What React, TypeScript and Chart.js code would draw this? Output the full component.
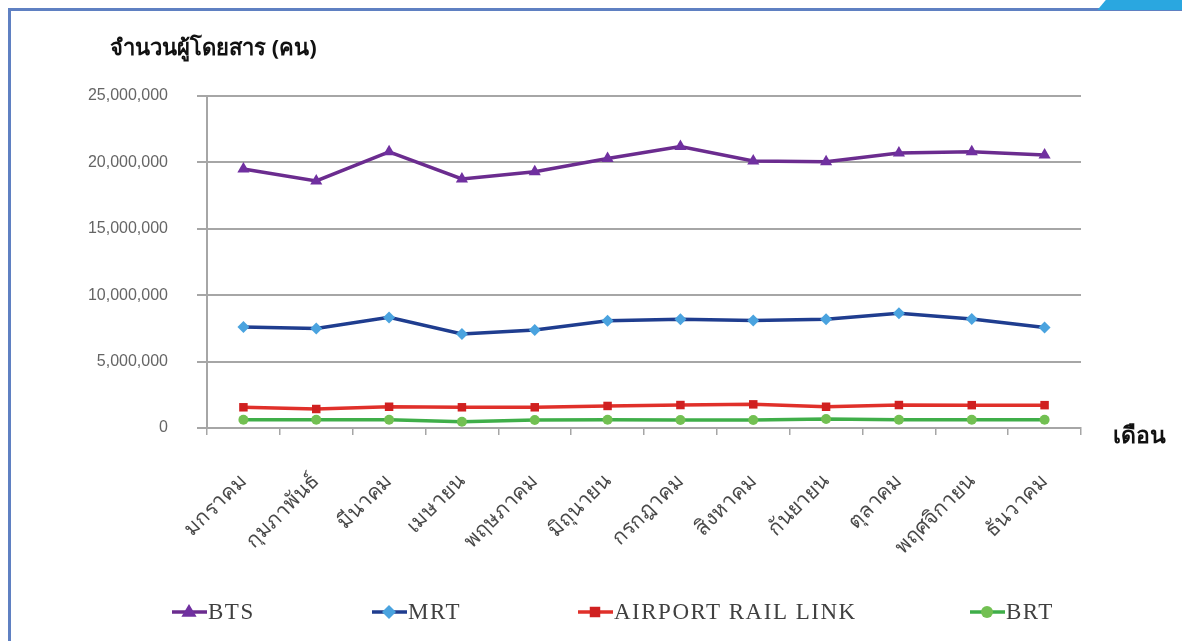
import React, { useEffect, useRef } from "react";
import { Chart, registerables } from "chart.js";

Chart.register(...registerables);

const months = [
  "มกราคม",
  "กุมภาพันธ์",
  "มีนาคม",
  "เมษายน",
  "พฤษภาคม",
  "มิถุนายน",
  "กรกฎาคม",
  "สิงหาคม",
  "กันยายน",
  "ตุลาคม",
  "พฤศจิกายน",
  "ธันวาคม",
];

const btsValues = [19500000, 18600000, 20800000, 18750000, 19300000, 20300000, 21200000, 20100000, 20050000, 20700000, 20800000, 20550000];
const mrtValues = [7600000, 7500000, 8330000, 7080000, 7380000, 8080000, 8190000, 8100000, 8190000, 8640000, 8200000, 7560000];
const arlValues = [1560000, 1430000, 1600000, 1560000, 1560000, 1660000, 1730000, 1780000, 1600000, 1730000, 1720000, 1720000];
const brtValues = [620000, 620000, 620000, 470000, 600000, 620000, 600000, 600000, 680000, 620000, 620000, 620000];

const seriesNames = ["BTS", "MRT", "AIRPORT RAIL LINK", "BRT"];
const yMax = 25000000;
const yStep = 5000000;
const yTitle = "จำนวนผู้โดยสาร (คน)";
const xTitle = "เดือน";

const THAI_FONT = "'Noto Sans', 'DejaVu Sans', sans-serif";

function drawMarker(ctx: CanvasRenderingContext2D, style: string, x: number, y: number, r: number, fill: string) {
  ctx.save();
  ctx.fillStyle = fill;
  ctx.beginPath();
  if (style === "triangle") {
    ctx.moveTo(x, y - r);
    ctx.lineTo(x + r * 0.95, y + r * 0.6);
    ctx.lineTo(x - r * 0.95, y + r * 0.6);
  } else if (style === "rectRot") {
    ctx.moveTo(x, y - r);
    ctx.lineTo(x + r, y);
    ctx.lineTo(x, y + r);
    ctx.lineTo(x - r, y);
  } else if (style === "rect") {
    ctx.rect(x - r * 0.75, y - r * 0.75, r * 1.5, r * 1.5);
  } else {
    ctx.arc(x, y, r, 0, Math.PI * 2);
  }
  ctx.closePath();
  ctx.fill();
  ctx.restore();
}

const decorPlugin = {
  id: "decor",
  afterDraw(chart: any) {
    const ctx = chart.ctx as CanvasRenderingContext2D;
    const area = chart.chartArea;
    ctx.save();
    // axis titles
    ctx.fillStyle = "#111111";
    ctx.font = `bold 22px ${THAI_FONT}`;
    ctx.textBaseline = "middle";
    ctx.textAlign = "left";
    ctx.fillText(yTitle, area.left - 97, area.top - 47);
    ctx.font = `bold 23px ${THAI_FONT}`;
    ctx.fillText(xTitle, area.right + 32, area.bottom + 8);

    // legend
    const legendX = [172, 372, 578, 970];
    const ly = 612;
    ctx.font = "23px 'Liberation Serif', serif";
    (ctx as any).letterSpacing = "1.5px";
    chart.data.datasets.forEach((ds: any, i: number) => {
      const x0 = legendX[i];
      ctx.strokeStyle = ds.borderColor;
      ctx.lineWidth = 3.5;
      ctx.beginPath();
      ctx.moveTo(x0, ly);
      ctx.lineTo(x0 + 35, ly);
      ctx.stroke();
      drawMarker(ctx, ds.pointStyle, x0 + 17, ly, ds.pointRadius + 1, ds.pointBackgroundColor);
      ctx.fillStyle = "#404040";
      ctx.textAlign = "left";
      ctx.fillText(ds.label, x0 + 36, ly + 1);
    });
    ctx.restore();
  },
};

export default function App() {
  const canvasRef = useRef<HTMLCanvasElement | null>(null);

  useEffect(() => {
    if (!canvasRef.current) return;
    const chart = new Chart(canvasRef.current, {
      type: "line",
      data: {
        labels: months,
        datasets: [
          {
            label: seriesNames[0],
            data: btsValues,
            borderColor: "#6b2c8f",
            backgroundColor: "#7030a0",
            pointBackgroundColor: "#7030a0",
            pointBorderWidth: 0,
            pointStyle: "triangle",
            pointRadius: 7,
            borderWidth: 3.5,
            tension: 0,
          },
          {
            label: seriesNames[1],
            data: mrtValues,
            borderColor: "#1f3d8f",
            backgroundColor: "#4aa3df",
            pointBackgroundColor: "#4aa3df",
            pointBorderWidth: 0,
            pointStyle: "rectRot",
            pointRadius: 6,
            borderWidth: 3.5,
            tension: 0,
          },
          {
            label: seriesNames[2],
            data: arlValues,
            borderColor: "#e0302a",
            backgroundColor: "#d02020",
            pointBackgroundColor: "#d02020",
            pointBorderWidth: 0,
            pointStyle: "rect",
            pointRadius: 6,
            borderWidth: 3.5,
            tension: 0,
          },
          {
            label: seriesNames[3],
            data: brtValues,
            borderColor: "#3fae49",
            backgroundColor: "#72c052",
            pointBackgroundColor: "#72c052",
            pointBorderWidth: 0,
            pointStyle: "circle",
            pointRadius: 5,
            borderWidth: 3.5,
            tension: 0,
          },
        ],
      },
      options: {
        animation: false,
        responsive: false,
        maintainAspectRatio: false,
        layout: { padding: { left: 0, right: 101, top: 96, bottom: 0 } },
        plugins: {
          legend: { display: false },
          tooltip: { enabled: false },
          title: { display: false },
        },
        scales: {
          x: {
            type: "category",
            offset: true,
            grid: {
              display: true,
              drawOnChartArea: false,
              drawTicks: true,
              tickLength: 7,
              color: "#a6a6a6",
              lineWidth: 1.5,
              offset: true,
            },
            border: { display: true, color: "#a6a6a6", width: 2 },
            ticks: {
              autoSkip: false,
              minRotation: 45,
              maxRotation: 45,
              padding: 34,
              color: "#4a4a4a",
              font: { family: THAI_FONT, size: 21 },
            },
            afterFit: (scale: any) => {
              scale.height = 213;
            },
          },
          y: {
            min: 0,
            max: yMax,
            ticks: {
              stepSize: yStep,
              padding: 29,
              color: "#656565",
              font: { family: "'Liberation Sans', Arial, sans-serif", size: 16 },
              callback: (v: any) => Number(v).toLocaleString("en-US"),
            },
            grid: { color: "#a6a6a6", lineWidth: 2, tickLength: 10 },
            border: { display: true, color: "#a6a6a6", width: 2 },
            afterFit: (scale: any) => {
              scale.width = 207;
            },
          },
        },
      },
      plugins: [decorPlugin],
    });
    return () => chart.destroy();
  }, []);

  return (
    <div
      style={{
        position: "fixed",
        left: 0,
        top: 0,
        width: 1182,
        height: 641,
        background: "#ffffff",
        overflow: "hidden",
      }}
    >
      <div
        style={{
          position: "absolute",
          left: 8,
          top: 8,
          width: 1200,
          height: 700,
          borderLeft: "3px solid #5f80c2",
          borderTop: "3px solid #5f80c2",
        }}
      />
      <div
        style={{
          position: "absolute",
          left: 1110,
          top: -20,
          width: 90,
          height: 30,
          background: "#2aa7e0",
          transform: "skewX(-40deg)",
        }}
      />
      <canvas ref={canvasRef} width={1182} height={641} style={{ position: "absolute", left: 0, top: 0 }} />
    </div>
  );
}
